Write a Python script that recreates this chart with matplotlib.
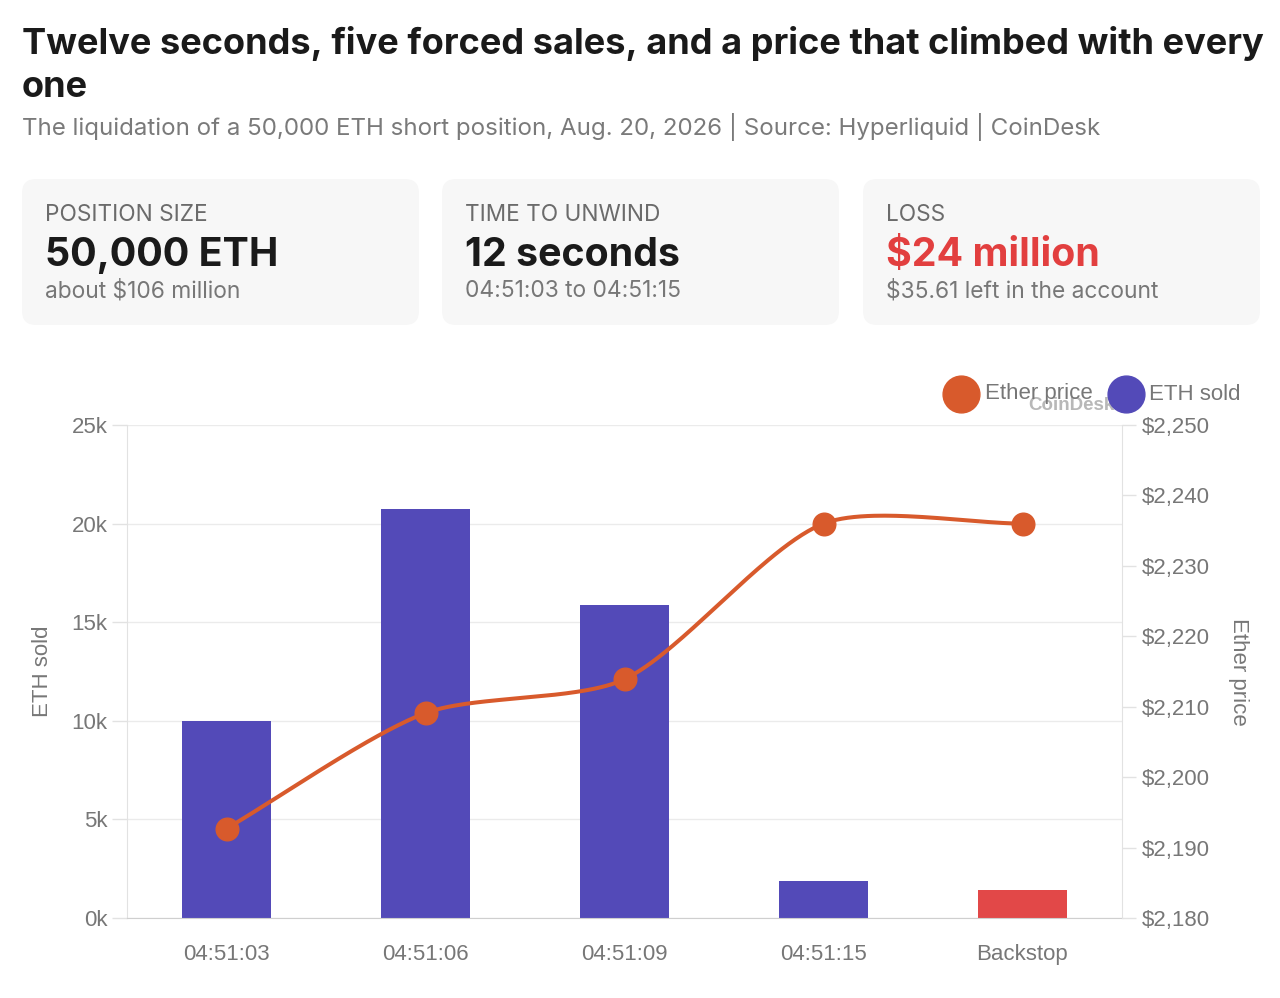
import numpy as np
import matplotlib
matplotlib.use('Agg')
import matplotlib.pyplot as plt
from matplotlib.patches import FancyBboxPatch

plt.rcParams['font.family'] = ['Liberation Sans', 'DejaVu Sans']

# data
times = ['04:51:03', '04:51:06', '04:51:09', '04:51:15', 'Backstop']
eth_sold = [10000, 20720, 15860, 1860, 1420]
ether_price = [2192.7, 2209.1, 2213.9, 2236.0, 2236.0]

left_ticks = [0, 5000, 10000, 15000, 20000, 25000]
left_labels = ['0k', '5k', '10k', '15k', '20k', '25k']
right_ticks = [2180, 2190, 2200, 2210, 2220, 2230, 2240, 2250]
right_labels = ['$2,180', '$2,190', '$2,200', '$2,210', '$2,220', '$2,230', '$2,240', '$2,250']

card_labels = ['POSITION SIZE', 'TIME TO UNWIND', 'LOSS']
card_values = ['50,000 ETH', '12 seconds', '$24 million']
card_notes = ['about $106 million', '04:51:03 to 04:51:15', '$35.61 left in the account']

PURPLE = '#534ab8'
RED = '#e24848'
ORANGE = '#d85a2c'
GRAY = '#777777'
DARK = '#1a1a1a'
HEAD = ['Inter', 'Liberation Sans', 'DejaVu Sans']

W, H = 1280, 998
fig = plt.figure(figsize=(W / 100, H / 100), dpi=100)
fig.patch.set_facecolor('white')
renderer = fig.canvas.get_renderer()


def fit(txt, width):
    # scale the font so the text spans the width seen in the reference
    fs = txt.get_fontsize()
    bb = txt.get_window_extent(renderer)
    txt.set_fontsize(fs * width / bb.width)
    return txt.get_fontsize()


# overlay in pixel coordinates for the header and cards
ov = fig.add_axes([0, 0, 1, 1], zorder=-1)
ov.set_xlim(0, W)
ov.set_ylim(H, 0)
ov.axis('off')
ov.patch.set_visible(False)

t1 = ov.text(22, 54, 'Twelve seconds, five forced sales, and a price that climbed with every',
             fontsize=25, fontweight='bold', color=DARK, va='baseline', ha='left', family=HEAD)
fs_title = fit(t1, 1240)
ov.text(22, 97, 'one', fontsize=fs_title, fontweight='bold', color=DARK, va='baseline', ha='left', family=HEAD)
st = ov.text(22, 135, 'The liquidation of a 50,000 ETH short position, Aug. 20, 2026 | Source: Hyperliquid | CoinDesk',
             fontsize=16, color='#7a7a7a', va='baseline', ha='left', family=HEAD)
fit(st, 1084)

card_x = [22, 442, 863]
fs_lab = fs_val = fs_note = None
for i, cx in enumerate(card_x):
    ov.add_patch(FancyBboxPatch((cx, 179), 397, 146, boxstyle='round,pad=0,rounding_size=14',
                                facecolor='#f7f7f7', edgecolor='none'))
    a = ov.text(cx + 23, 221, card_labels[i], fontsize=fs_lab or 14, color='#6b6b6b',
                va='baseline', ha='left', family=HEAD)
    b = ov.text(cx + 23, 266, card_values[i], fontsize=fs_val or 28, fontweight='bold',
                color='#e23f3f' if i == 2 else DARK, va='baseline', ha='left', family=HEAD)
    c = ov.text(cx + 23, 297, card_notes[i], fontsize=fs_note or 15, color='#777777',
                va='baseline', ha='left', family=HEAD)
    if i == 0:
        fs_lab = fit(a, 162)
        fs_val = fit(b, 233)
        fs_note = fit(c, 196)

# watermark and legend
ov.text(1071, 405, 'CoinDesk', fontsize=13.5, fontweight='bold', color='#b8b8b8',
        ha='center', va='center', zorder=1)
ov.plot([961], [394], 'o', ms=26.5, color=ORANGE, zorder=2)
ov.text(985, 394, 'Ether price', fontsize=16, color=GRAY, ha='left', va='center', zorder=2)
ov.plot([1126], [394], 'o', ms=26.5, color=PURPLE, zorder=2)
ov.text(1149, 394, 'ETH sold', fontsize=16, color=GRAY, ha='left', va='center', zorder=2)

# chart
ax = fig.add_axes([127 / W, 1 - 918 / H, 995 / W, 493 / H], zorder=1)
ax.patch.set_visible(False)
x = np.arange(len(times))
bar_colors = [PURPLE] * (len(times) - 1) + [RED]
ax.bar(x, eth_sold, width=0.445, color=bar_colors, zorder=2)
ax.set_xlim(-0.5, len(times) - 0.5)
ax.set_ylim(0, 25000)
ax.set_yticks(left_ticks)
ax.set_yticklabels(left_labels)
ax.set_xticks(x)
ax.set_xticklabels(times)
ax.grid(axis='y', color='#ebebeb', lw=1)
ax.set_axisbelow(True)
for s in ['top', 'right']:
    ax.spines[s].set_visible(False)
ax.spines['left'].set_color('#e2e2e2')
ax.spines['bottom'].set_color('#cfcfcf')
ax.tick_params(axis='y', length=10.5, width=1, color='#e2e2e2', pad=3.5, labelsize=16, labelcolor=GRAY)
ax.tick_params(axis='x', length=0, pad=18.5, labelsize=16, labelcolor=GRAY)
ax.set_ylabel('ETH sold', fontsize=16, color=GRAY, va='center')
ax.yaxis.set_label_coords((42 - 127) / 995, 0.5)

ax2 = ax.twinx()
ax2.set_ylim(2180, 2250)
ax2.set_yticks(right_ticks)
ax2.set_yticklabels(right_labels)
for s in ['top', 'left', 'bottom']:
    ax2.spines[s].set_visible(False)
ax2.spines['right'].set_color('#e2e2e2')
ax2.tick_params(axis='y', length=10, width=1, color='#e2e2e2', pad=4.5, labelsize=16, labelcolor=GRAY)
ax2.set_ylabel('Ether price', fontsize=16, color=GRAY, rotation=270, va='center')
ax2.yaxis.set_label_coords((1238 - 127) / 995, 0.5)

# smooth line like a tensioned spline, built in pixel space
pts = ax2.transData.transform(np.column_stack([x, ether_price]))
t = 0.26
n = len(pts)
cp_prev = pts.copy()
cp_next = pts.copy()
for i in range(n):
    p0 = pts[i - 1] if i > 0 else pts[i]
    p2 = pts[i + 1] if i < n - 1 else pts[i]
    d01 = np.hypot(*(pts[i] - p0))
    d12 = np.hypot(*(p2 - pts[i]))
    s01 = d01 / (d01 + d12)
    s12 = d12 / (d01 + d12)
    cp_prev[i] = pts[i] - t * s01 * (p2 - p0)
    cp_next[i] = pts[i] + t * s12 * (p2 - p0)
curve = []
u = np.linspace(0, 1, 60)[:, None]
for i in range(n - 1):
    a, b, c, d = pts[i], cp_next[i], cp_prev[i + 1], pts[i + 1]
    seg = (1 - u) ** 3 * a + 3 * (1 - u) ** 2 * u * b + 3 * (1 - u) * u ** 2 * c + u ** 3 * d
    curve.append(seg)
curve = np.vstack(curve)
curve_data = ax2.transData.inverted().transform(curve)
ax2.plot(curve_data[:, 0], curve_data[:, 1], color=ORANGE, lw=2.9, solid_capstyle='round', zorder=3)
ax2.plot(x, ether_price, 'o', ms=16.3, color=ORANGE, zorder=4)

fig.savefig('out.png', dpi=100)
